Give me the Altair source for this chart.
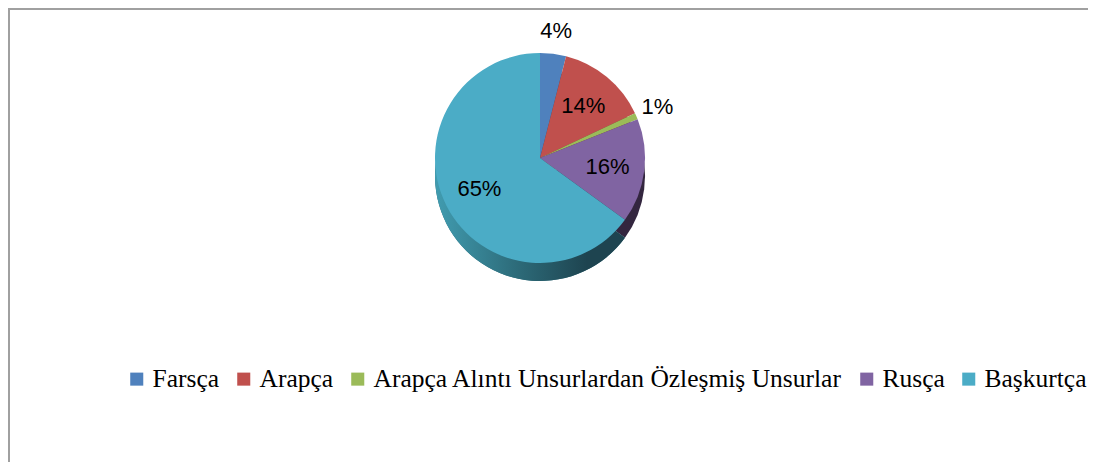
import altair as alt
import pandas as pd

langs = ["Farsça", "Arapça", "Arapça Alıntı Unsurlardan Özleşmiş Unsurlar", "Rusça", "Başkurtça"]
values = [4, 14, 1, 16, 65]
labels = ["4%", "14%", "1%", "16%", "65%"]
colors = ["#4F81BD", "#C0504D", "#9BBB59", "#8064A2", "#4BACC6"]
dark = ["#2F4D71", "#732F2E", "#5D7035", "#33263F", "#2D6C7B"]

df = pd.DataFrame({"lang": langs, "value": values, "label": labels, "order": list(range(len(langs)))})

CX, CY, R, DEPTH = 532, 150, 105, 18

base = alt.Chart(df).encode(
    theta=alt.Theta("value:Q", stack=True),
    order=alt.Order("order:Q"),
)

side = base.mark_arc(radius=R).encode(
    color=alt.Color("lang:N", scale=alt.Scale(domain=langs, range=dark), legend=None),
    x=alt.value(CX), y=alt.value(CY + DEPTH),
)

side_grad = base.mark_arc(
    radius=R,
    color=alt.Gradient(
        gradient="linear", x1=0, x2=1, y1=0, y2=0,
        stops=[
            alt.GradientStop(color="#419CB0", offset=0),
            alt.GradientStop(color="#2C6977", offset=0.45),
            alt.GradientStop(color="#1E4450", offset=0.8),
            alt.GradientStop(color="#1E4450", offset=1),
        ],
    ),
).encode(
    opacity=alt.condition("datum.value > 50", alt.value(1), alt.value(0)),
    x=alt.value(CX), y=alt.value(CY + DEPTH),
)

top = base.mark_arc(radius=R).encode(
    color=alt.Color(
        "lang:N",
        scale=alt.Scale(domain=langs, range=colors),
        legend=alt.Legend(
            title=None, orient="none", direction="horizontal", legendX=116, legendY=358,
            symbolType="square", symbolSize=170, symbolStrokeWidth=0,
            labelFont="Liberation Serif", labelFontSize=25.5, labelColor="black",
            labelOffset=3, columnPadding=11, labelLimit=700, columns=5,
        ),
    ),
    x=alt.value(CX), y=alt.value(CY),
)

inside = base.transform_calculate(t="datum.value >= 5 ? datum.label : ''").mark_text(
    radius=68, font="Liberation Sans", fontSize=22, color="black"
).encode(text="t:N", x=alt.value(CX), y=alt.value(CY))

outside = base.transform_calculate(t="datum.value < 5 ? datum.label : ''").mark_text(
    radius=128, font="Liberation Sans", fontSize=22, color="black"
).encode(text="t:N", x=alt.value(CX), y=alt.value(CY))

left_border = alt.Chart(df).mark_rule(color="#A0A0A0", strokeWidth=2).encode(
    x=alt.value(1), y=alt.value(0), y2=alt.value(454)
)
top_border = alt.Chart(df).mark_rule(color="#A0A0A0", strokeWidth=2).encode(
    x=alt.value(0), x2=alt.value(1080), y=alt.value(1)
)

chart = alt.layer(side, side_grad, top, inside, outside, left_border, top_border).resolve_scale(
    color="independent"
).properties(
    width=1080, height=454, padding=0, autosize=alt.AutoSizeParams(type="none")
).configure_view(stroke=None)

chart.save("out.html", embed_options={"renderer": "svg", "actions": False})
